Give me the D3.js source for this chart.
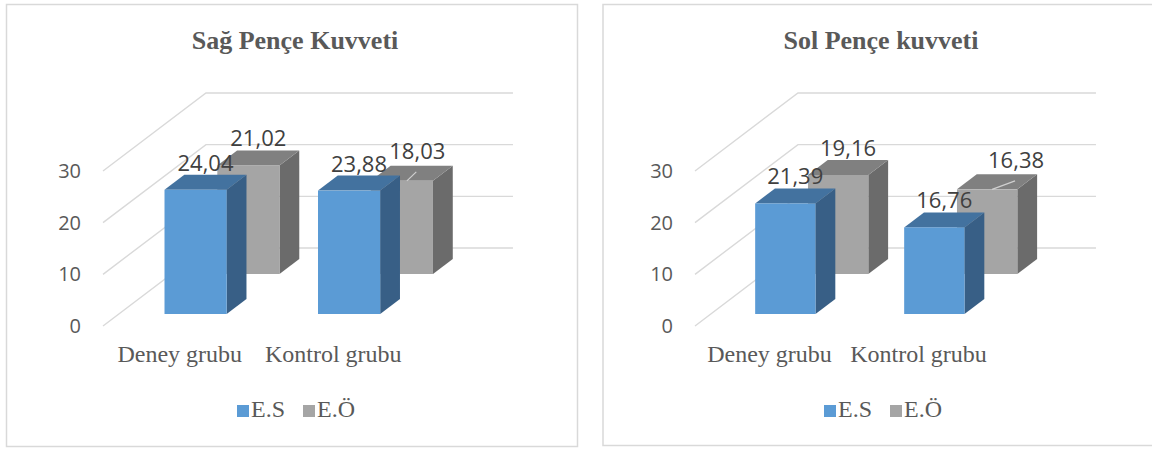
<!DOCTYPE html>
<html lang="tr">
<head>
<meta charset="utf-8">
<script src="https://cdn.jsdelivr.net/npm/d3@7"></script>
<style>
  html, body { margin: 0; padding: 0; background: #ffffff; }
  svg { display: block; }
</style>
</head>
<body>
<svg id="chart" width="1152" height="449"></svg>
<script>
// Grip strength, right hand and left hand, two groups, two series
const categories = ["Deney grubu", "Kontrol grubu"];
const seriesNames = ["E.S", "E.Ö"];
const sagES = [24.04, 23.88];
const sagEO = [21.02, 18.03];
const solES = [21.39, 16.76];
const solEO = [19.16, 16.38];
const yTicks = [0, 10, 20, 30];
const titles = ["Sağ Pençe Kuvveti", "Sol Pençe kuvveti"];

const svg = d3.select("#chart");
const trLocale = d3.formatLocale({ decimal: ",", thousands: ".", grouping: [3], currency: ["", " ₺"] });
const fmt = trLocale.format(".2f");

// oblique 3D projection: one pixel of depth moves KX right and 1 up
const KX = 1.32;
const DEPTH_BACK = 78;     // floor depth to the back wall
const ROW_DEPTH = [12, 52]; // front face depth for E.S (front row) and E.Ö (back row)
const THICK = 15;          // bar depth

const colors = {
  es: { front: "#5b9bd5", top: "#43729f", side: "#385f86" },
  eo: { front: "#a5a5a5", top: "#808080", side: "#6b6b6b" }
};

const panels = [
  { title: titles[0], es: sagES, eo: sagEO,
    box: [6.5, 4.5, 571, 442], cx: 295,
    x0: 103, x1: 410, legendX: 237,
    nudge: { dx: 5.5, dy: -3 } },
  { title: titles[1], es: solES, eo: solEO,
    box: [603, 4.5, 600, 441], cx: 881,
    x0: 695, x1: 993, legendX: 824,
    nudge: { dx: 19, dy: -2.5 } }
];

panels.forEach(p => {
  const g = svg.append("g");

  g.append("rect")
    .attr("x", p.box[0]).attr("y", p.box[1])
    .attr("width", p.box[2]).attr("height", p.box[3])
    .attr("fill", "#ffffff").attr("stroke", "#d9d9d9").attr("stroke-width", 1.5);

  g.append("text")
    .attr("x", p.cx).attr("y", 49)
    .attr("text-anchor", "middle")
    .attr("font-family", "'Liberation Serif', 'Times New Roman', serif")
    .attr("font-weight", "bold").attr("font-size", 26)
    .attr("fill", "#595959")
    .text(p.title);

  const y = d3.scaleLinear().domain([0, 30]).range([326, 171]);
  const x = d3.scaleBand().domain(categories).range([p.x0, p.x1]).padding(0);
  const barW = x.bandwidth() * 0.405;

  // side wall and back wall gridlines
  g.append("g").selectAll("path").data(yTicks).join("path")
    .attr("d", t => {
      const yf = y(t);
      const xb = p.x0 + DEPTH_BACK * KX;
      return `M${p.x0},${yf}L${xb},${yf - DEPTH_BACK}L${p.x1 + DEPTH_BACK * KX},${yf - DEPTH_BACK}`;
    })
    .attr("fill", "none").attr("stroke", "#d9d9d9").attr("stroke-width", 1.4);

  // value axis labels
  g.append("g").selectAll("text").data(yTicks).join("text")
    .attr("x", p.x0 - 22).attr("y", t => y(t))
    .attr("dy", "0.35em")
    .attr("text-anchor", "end")
    .attr("font-family", "'Open Sans', sans-serif").attr("font-size", 20)
    .attr("fill", "#595959")
    .text(t => t);

  // category labels
  g.append("g").selectAll("text").data(categories).join("text")
    .attr("x", c => x(c) + x.bandwidth() / 2).attr("y", 362)
    .attr("text-anchor", "middle")
    .attr("font-family", "'Liberation Serif', 'Times New Roman', serif")
    .attr("font-size", 24)
    .attr("fill", "#595959")
    .text(c => c);

  function barGeom(cat, v, depth) {
    const base = y(0) - depth;
    const h = y(0) - y(v);
    const xl = x(cat) + x.bandwidth() / 2 - barW / 2 + depth * KX;
    const top = base - h;
    return { xl, xr: xl + barW, top, base, dx: THICK * KX, dy: THICK };
  }

  function drawRow(values, depth, col) {
    const rows = categories.map((c, i) => ({ c, v: values[i], geo: barGeom(c, values[i], depth) }));
    const bars = g.append("g").selectAll("g").data(rows).join("g");
    bars.append("polygon")
      .attr("points", d => {
        const b = d.geo;
        return [[b.xr, b.top], [b.xr + b.dx, b.top - b.dy], [b.xr + b.dx, b.base - b.dy], [b.xr, b.base]].join(" ");
      })
      .attr("fill", col.side);
    bars.append("polygon")
      .attr("points", d => {
        const b = d.geo;
        return [[b.xl, b.top], [b.xr, b.top], [b.xr + b.dx, b.top - b.dy], [b.xl + b.dx, b.top - b.dy]].join(" ");
      })
      .attr("fill", col.top);
    bars.append("rect")
      .attr("x", d => d.geo.xl).attr("y", d => d.geo.top)
      .attr("width", barW).attr("height", d => d.geo.base - d.geo.top)
      .attr("fill", col.front);
    return rows;
  }

  // back row first, then the front row over it
  const eoRows = drawRow(p.eo, ROW_DEPTH[1], colors.eo);
  const esRows = drawRow(p.es, ROW_DEPTH[0], colors.es);

  const labelFont = "'Open Sans', sans-serif";
  function labelPos(d, nudged) {
    const b = d.geo;
    let lx = (b.xl + b.xr) / 2 + b.dx / 2;
    let ly = b.top - b.dy - 4;
    if (nudged) { lx += p.nudge.dx; ly += p.nudge.dy; }
    return [lx, ly];
  }

  // leader line for the displaced label of the second back-row bar
  const moved = eoRows[1];
  const mp = labelPos(moved, true);
  g.append("line")
    .attr("x1", (moved.geo.xl + moved.geo.xr) / 2 + 5).attr("y1", moved.geo.top)
    .attr("x2", mp[0] - 1).attr("y2", mp[1] + 13)
    .attr("stroke", "#d0d0d0").attr("stroke-width", 1.2);

  const labels = [
    ...eoRows.map((d, i) => ({ d, nudged: i === 1 })),
    ...esRows.map(d => ({ d, nudged: false }))
  ];
  g.append("g").selectAll("text").data(labels).join("text")
    .attr("x", l => labelPos(l.d, l.nudged)[0])
    .attr("y", l => labelPos(l.d, l.nudged)[1])
    .attr("text-anchor", "middle")
    .attr("font-family", labelFont).attr("font-size", 22)
    .attr("fill", "#404040")
    .text(l => fmt(l.d.v));

  // legend
  const legend = g.append("g").attr("transform", `translate(${p.legendX},0)`);
  const items = [
    { name: seriesNames[0], color: colors.es.front },
    { name: seriesNames[1], color: colors.eo.front }
  ];
  const it = legend.selectAll("g").data(items).join("g")
    .attr("transform", (d, i) => `translate(${i * 66},0)`);
  it.append("rect").attr("x", 0).attr("y", 405).attr("width", 12).attr("height", 12)
    .attr("fill", d => d.color);
  it.append("text").attr("x", 14).attr("y", 417)
    .attr("font-family", "'Liberation Serif', 'Times New Roman', serif")
    .attr("font-size", 24).attr("fill", "#595959")
    .text(d => d.name);
});
</script>
</body>
</html>
